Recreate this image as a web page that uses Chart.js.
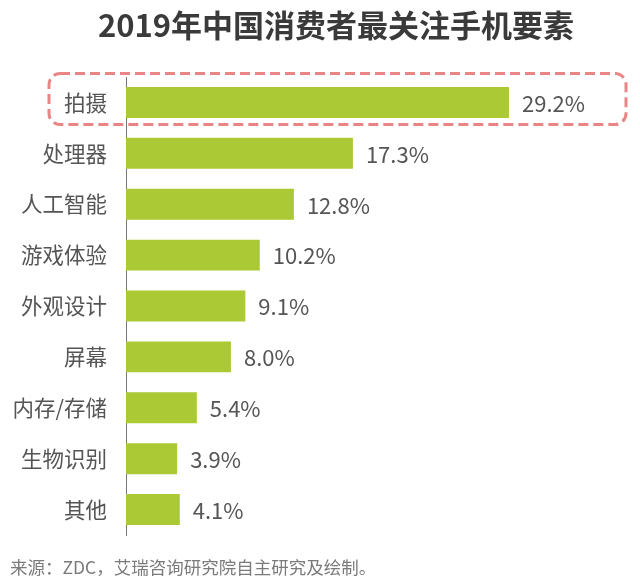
<!DOCTYPE html>
<html>
<head>
<meta charset="utf-8">
<script src="https://cdn.jsdelivr.net/npm/chart.js@4.4.1/dist/chart.umd.min.js"></script>
<style>
html,body{margin:0;padding:0;background:#fff;}
#wrap{position:relative;width:640px;height:587px;}
</style>
</head>
<body>
<div id="wrap"><canvas id="c" width="640" height="587"></canvas></div>
<script>
const categories = ["拍摄","处理器","人工智能","游戏体验","外观设计","屏幕","内存/存储","生物识别","其他"];
const values = [29.2, 17.3, 12.8, 10.2, 9.1, 8.0, 5.4, 3.9, 4.1];
const valueLabels = ["29.2%","17.3%","12.8%","10.2%","9.1%","8.0%","5.4%","3.9%","4.1%"];
const titleText = "2019年中国消费者最关注手机要素";
const sourceText = "来源：ZDC，艾瑞咨询研究院自主研究及绘制。";
const highlightIndex = 0;

const FONT = "'Noto Sans CJK SC', 'Noto Sans', sans-serif";

const extras = {
  id: 'extras',
  afterDatasetsDraw(chart) {
    const ctx = chart.ctx;
    const meta = chart.getDatasetMeta(0);
    ctx.save();
    // value labels
    ctx.font = "22px " + FONT;
    ctx.fillStyle = "#555555";
    ctx.textBaseline = "middle";
    ctx.textAlign = "left";
    meta.data.forEach((bar, i) => {
      ctx.fillText(valueLabels[i], bar.x + 13, bar.y + 1);
    });
    // highlight dashed box
    const hb = meta.data[highlightIndex];
    const top = hb.y - 29, bottom = hb.y + 22, left = 49, right = 626, r = 11;
    ctx.strokeStyle = "#e98585";
    ctx.lineWidth = 3;
    ctx.setLineDash([10, 5]);
    ctx.beginPath();
    ctx.roundRect(left, top, right - left, bottom - top, r);
    ctx.stroke();
    ctx.setLineDash([]);
    // title
    ctx.font = "bold 31px " + FONT;
    ctx.fillStyle = "#3a3a3a";
    ctx.textAlign = "center";
    ctx.textBaseline = "middle";
    ctx.fillText(titleText, 336, 25);
    // source
    ctx.font = "17.5px " + FONT;
    ctx.fillStyle = "#7a7a7a";
    ctx.textAlign = "left";
    ctx.fillText(sourceText, 10, 567);
    ctx.restore();
  }
};

new Chart(document.getElementById('c'), {
  type: 'bar',
  data: {
    labels: categories,
    datasets: [{
      data: values,
      backgroundColor: "#aac935",
      borderWidth: 0,
      barPercentage: 0.76,
      categoryPercentage: 0.8
    }]
  },
  options: {
    indexAxis: 'y',
    responsive: false,
    animation: false,
    devicePixelRatio: 1,
    layout: { padding: { top: 77, bottom: 52, left: 0, right: 40 } },
    plugins: { legend: { display: false }, tooltip: { enabled: false }, title: { display: false } },
    scales: {
      x: { display: false, min: 0, max: 36.14 },
      y: {
        afterFit(scale) { scale.width = 126; },
        grid: { display: false, drawTicks: false },
        border: { display: true, color: "#777777", width: 1 },
        ticks: { color: "#555555", font: { size: 21.5, family: FONT }, padding: 19 }
      }
    }
  },
  plugins: [extras]
});
</script>
</body>
</html>
